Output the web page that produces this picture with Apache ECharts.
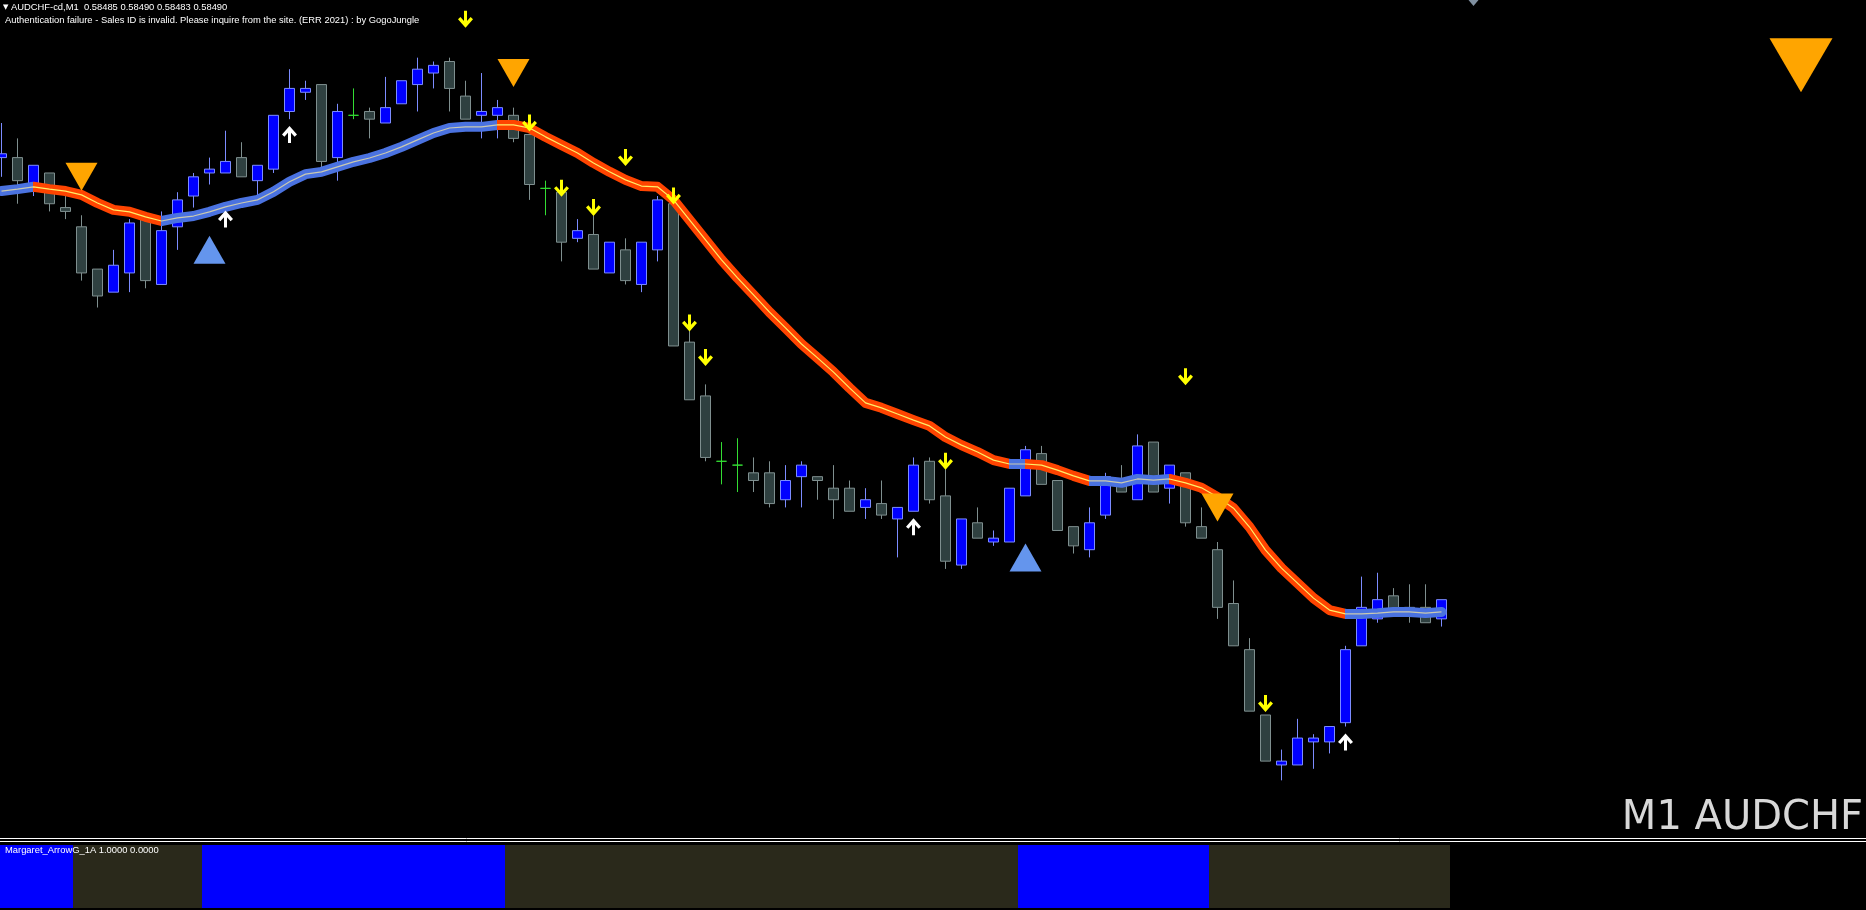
<!DOCTYPE html>
<html><head><meta charset="utf-8">
<script src="https://cdn.jsdelivr.net/npm/echarts@6/dist/echarts.min.js"></script>
<style>html,body{margin:0;padding:0;background:#000;overflow:hidden}#c{width:1866px;height:910px;}</style>
</head><body><div id="c"></div>
<script>
const symbolName = 'AUDCHF-cd,M1';
const authMessage = 'Authentication failure - Sales ID is invalid. Please inquire from the site. (ERR 2021) : by GogoJungle';
const watermark = 'M1 AUDCHF';
const indicatorName = 'Margaret_ArrowG_1A';
const totalSlots = 117;

const opens = [0.58605,0.58605,0.58598,0.58601,0.58592,0.58587,0.58576,0.58570,0.58575,0.58589,
0.58572,0.58587,0.58595,0.58601,0.58601,0.58605,0.58599,0.58602,0.58617,0.58622,
0.58624,0.58605,0.58616,0.58617,0.58614,0.58619,0.58624,0.58627,0.58630,0.58621,
0.58616,0.58616,0.58616,0.58611,0.58597,0.58596,0.58584,0.58585,0.58575,0.58581,
0.58572,0.58581,0.58593,0.58557,0.58543,0.58526,0.58525,0.58523,0.58523,0.58516,
0.58522,0.58522,0.58519,0.58519,0.58514,0.58515,0.58511,0.58513,0.58526,0.58517,
0.58499,0.58510,0.58505,0.58505,0.58517,0.58528,0.58521,0.58509,0.58503,0.58512,
0.58520,0.58516,0.58531,0.58519,0.58523,0.58509,0.58503,0.58489,0.58477,0.58460,
0.58447,0.58447,0.58453,0.58453,0.58458,0.58478,0.58485,0.58491,0.58488,0.58488,
0.58485];
const closes = [0.58606,0.58599,0.58603,0.58593,0.58591,0.58575,0.58569,0.58577,0.58588,0.58573,
0.58586,0.58594,0.58600,0.58602,0.58604,0.58600,0.58603,0.58616,0.58623,0.58623,
0.58604,0.58617,0.58616,0.58615,0.58618,0.58625,0.58628,0.58629,0.58623,0.58615,
0.58617,0.58618,0.58610,0.58598,0.58597,0.58583,0.58586,0.58576,0.58583,0.58573,
0.58583,0.58594,0.58556,0.58542,0.58527,0.58526,0.58525,0.58521,0.58515,0.58521,
0.58525,0.58521,0.58516,0.58513,0.58516,0.58512,0.58514,0.58525,0.58516,0.58500,
0.58511,0.58506,0.58506,0.58519,0.58529,0.58520,0.58508,0.58504,0.58510,0.58522,
0.58518,0.58530,0.58518,0.58525,0.58510,0.58506,0.58488,0.58478,0.58461,0.58448,
0.58448,0.58454,0.58454,0.58457,0.58477,0.58488,0.58490,0.58487,0.58487,0.58484,
0.58490];
const lows = [0.58600,0.58593,0.58595,0.58591,0.58589,0.58573,0.58566,0.58570,0.58570,0.58571,
0.58572,0.58581,0.58592,0.58598,0.58601,0.58600,0.58595,0.58601,0.58615,0.58620,
0.58602,0.58599,0.58615,0.58610,0.58614,0.58619,0.58617,0.58623,0.58617,0.58615,
0.58610,0.58610,0.58609,0.58594,0.58590,0.58578,0.58583,0.58576,0.58575,0.58572,
0.58570,0.58578,0.58556,0.58542,0.58526,0.58520,0.58518,0.58518,0.58514,0.58514,
0.58514,0.58516,0.58511,0.58513,0.58511,0.58511,0.58501,0.58513,0.58515,0.58498,
0.58498,0.58506,0.58504,0.58505,0.58517,0.58520,0.58508,0.58502,0.58501,0.58511,
0.58518,0.58516,0.58518,0.58515,0.58509,0.58506,0.58485,0.58478,0.58461,0.58448,
0.58443,0.58447,0.58446,0.58450,0.58457,0.58478,0.58484,0.58487,0.58484,0.58484,
0.58483];
const highs = [0.58614,0.58610,0.58603,0.58601,0.58595,0.58590,0.58576,0.58581,0.58589,0.58589,
0.58591,0.58596,0.58601,0.58605,0.58612,0.58609,0.58603,0.58616,0.58628,0.58625,
0.58624,0.58619,0.58623,0.58618,0.58626,0.58625,0.58631,0.58630,0.58631,0.58625,
0.58627,0.58620,0.58618,0.58611,0.58599,0.58596,0.58589,0.58590,0.58583,0.58584,
0.58583,0.58595,0.58595,0.58560,0.58546,0.58531,0.58532,0.58527,0.58526,0.58525,
0.58526,0.58522,0.58525,0.58521,0.58519,0.58521,0.58514,0.58527,0.58527,0.58526,
0.58511,0.58514,0.58508,0.58519,0.58530,0.58530,0.58521,0.58509,0.58514,0.58523,
0.58525,0.58533,0.58531,0.58525,0.58523,0.58514,0.58505,0.58495,0.58480,0.58460,
0.58451,0.58459,0.58455,0.58457,0.58478,0.58496,0.58497,0.58493,0.58494,0.58494,
0.58490];

// smoothed moving average line
const maValues = [0.585963,0.585968,0.585974,0.585968,0.585963,0.585953,0.585932,0.585914,0.585909,0.585896,
0.585885,0.585893,0.585898,0.585909,0.585922,0.585932,0.585940,0.585961,0.585987,0.586007,
0.586013,0.586026,0.586039,0.586049,0.586062,0.586078,0.586096,0.586114,0.586127,0.586130,
0.586130,0.586135,0.586135,0.586127,0.586104,0.586083,0.586062,0.586036,0.586013,0.585992,
0.585976,0.585974,0.585940,0.585888,0.585836,0.585784,0.585737,0.585693,0.585648,0.585607,
0.585565,0.585529,0.585492,0.585451,0.585412,0.585399,0.585383,0.585367,0.585352,0.585323,
0.585302,0.585284,0.585263,0.585253,0.585253,0.585250,0.585237,0.585222,0.585209,0.585209,
0.585204,0.585214,0.585211,0.585214,0.585204,0.585191,0.585167,0.585138,0.585089,0.585029,
0.584982,0.584943,0.584904,0.584873,0.584863,0.584863,0.584865,0.584868,0.584868,0.584865,
0.584868];
// candle indices where the MA colour flips (starts rising/blue)
const maSwitch = [2,10,31,63,64,68,73,84];

// signal marks: [candle index, price]
const sellArrows = [[29,0.58641],[33,0.58614],[35,0.58597],[37,0.58592],[39,0.58605],[42,0.58595],[43,0.58562],[44,0.58553],[59,0.58526],[74,0.58548],[79,0.58463]];
const buyArrows = [[14,0.58589],[18,0.58611],[57,0.58509],[84,0.58453]];
const sellTriangles = [[5,0.58600],[32,0.58627],[76,0.58514]];
const buyTriangles = [[13,0.58581],[64,0.58501]];
const currentSignal = [[112,0.58629]];
const topMarker = [[92,0.58646]];

// lower indicator panel (1 = up/blue, 0 = down/dark)
const panelUp = [1,1,1,1,1,0,0,0,0,0,0,0,0,1,1,1,1,1,1,1,1,1,1,1,1,1,1,1,1,1,1,1,
0,0,0,0,0,0,0,0,0,0,0,0,0,0,0,0,0,0,0,0,0,0,0,0,0,0,0,0,0,0,0,0,
1,1,1,1,1,1,1,1,1,1,1,1,0,0,0,0,0,0,0,0,0,0,0,0,0,0,0];
const panelDown = [0,0,0,0,0,1,1,1,1,1,1,1,1,0,0,0,0,0,0,0,0,0,0,0,0,0,0,0,0,0,0,0,
1,1,1,1,1,1,1,1,1,1,1,1,1,1,1,1,1,1,1,1,1,1,1,1,1,1,1,1,1,1,1,1,
0,0,0,0,0,0,0,0,0,0,0,0,1,1,1,1,1,1,1,1,1,1,1,1,1,1,1];

const categories = Array.from({length: totalSlots}, (_, i) => 'bar ' + (i + 1));
const candleData = opens.map((o, i) => [o, closes[i], lows[i], highs[i]]);
const last = opens.length - 1;
const nz = v => (v ? v : '-');

function maPieces(upColor, downColor) {
  const edges = [...maSwitch, null];
  const out = []; let prev = null; let up = true;
  edges.forEach(e => {
    const p = {color: up ? upColor : downColor};
    if (prev !== null) p.gte = prev;
    if (e !== null) p.lt = e;
    out.push(p); prev = e; up = !up;
  });
  return out;
}

const arrowDown = 'path://M0,5L5,10L10,5L8.4,3.7L6,6.1L6,0L4,0L4,6.1L1.6,3.7Z';
const arrowUp = 'path://M0,5L5,0L10,5L8.4,6.3L6,3.9L6,10L4,10L4,3.9L1.6,6.3Z';

const chart = echarts.init(document.getElementById('c'), null, {renderer: 'canvas'});
const smallFont = '9.4px "Liberation Sans"';
const slot = 16;
chart.setOption({
  backgroundColor: '#000000',
  animation: false,
  grid: [
    {left: 1.5, width: slot * (totalSlots - 1), top: 0, height: 838},
    {left: 1.5, width: slot * (totalSlots - 1), top: 845, height: 63}
  ],
  xAxis: [
    {type: 'category', data: categories, gridIndex: 0, show: false, boundaryGap: false},
    {type: 'category', data: categories, gridIndex: 1, show: false, boundaryGap: false}
  ],
  yAxis: [
    {type: 'value', gridIndex: 0, min: 0.58428, max: 0.58646, show: false, scale: true},
    {type: 'value', gridIndex: 1, min: 0, max: 1, show: false}
  ],
  visualMap: [
    {show: false, type: 'piecewise', seriesIndex: 1, dimension: 0, pieces: maPieces('#4a72e0', '#ff4400')},
    {show: false, type: 'piecewise', seriesIndex: 2, dimension: 0, pieces: maPieces('#c9c9b0', '#ffee66')}
  ],
  series: [
    {
      type: 'candlestick', xAxisIndex: 0, yAxisIndex: 0, data: candleData, barWidth: 10, z: 2, silent: true, clip: false,
      itemStyle: {color: '#0000ff', color0: '#2f4040', borderColor: '#7c8cff', borderColor0: '#7f8f8f', borderColorDoji: '#33dd33', borderWidth: 1},
      markLine: {silent: true, symbol: 'none', label: {show: false}, lineStyle: {color: '#a8a8a8', width: 1, type: 'solid'},
        data: [{yAxis: closes[last]}]}
    },
    {type: 'line', xAxisIndex: 0, yAxisIndex: 0, data: maValues, showSymbol: false, silent: true, z: 3, clip: false,
      lineStyle: {width: 10, join: 'round', cap: 'round'}},
    {type: 'line', xAxisIndex: 0, yAxisIndex: 0, data: maValues, showSymbol: false, silent: true, z: 4, clip: false,
      lineStyle: {width: 1.2}},
    {type: 'scatter', xAxisIndex: 0, yAxisIndex: 0, data: sellArrows, symbol: arrowDown, symbolSize: [15, 17], z: 6, silent: true,
      itemStyle: {color: '#ffff00', opacity: 1}},
    {type: 'scatter', xAxisIndex: 0, yAxisIndex: 0, data: buyArrows, symbol: arrowUp, symbolSize: [15, 17], z: 6, silent: true,
      itemStyle: {color: '#ffffff', opacity: 1}},
    {type: 'scatter', xAxisIndex: 0, yAxisIndex: 0, data: sellTriangles, symbol: 'triangle', symbolRotate: 180, symbolSize: [32, 28], z: 5, silent: true,
      itemStyle: {color: '#ffa500', opacity: 1}},
    {type: 'scatter', xAxisIndex: 0, yAxisIndex: 0, data: buyTriangles, symbol: 'triangle', symbolSize: [32, 28], z: 5, silent: true,
      itemStyle: {color: '#6495ed', opacity: 1}},
    {type: 'scatter', xAxisIndex: 0, yAxisIndex: 0, data: currentSignal, symbol: 'triangle', symbolRotate: 180, symbolSize: [63, 54], symbolOffset: [7.5, 0], z: 5, silent: true,
      itemStyle: {color: '#ffa500', opacity: 1}},
    {type: 'scatter', xAxisIndex: 0, yAxisIndex: 0, data: topMarker, symbol: 'diamond', symbolSize: [10, 12], z: 5, silent: true,
      itemStyle: {color: '#8090a0', opacity: 1}},
    {type: 'bar', xAxisIndex: 1, yAxisIndex: 1, data: panelUp.map(nz), stack: 'p', barWidth: 17, silent: true, clip: false,
      itemStyle: {color: '#0000ff'}},
    {type: 'bar', xAxisIndex: 1, yAxisIndex: 1, data: panelDown.map(nz), stack: 'p', barWidth: 17, silent: true, clip: false,
      itemStyle: {color: '#2a291b'}}
  ],
  graphic: [
    {type: 'line', shape: {x1: 0, y1: 838.5, x2: 1866, y2: 838.5}, style: {stroke: '#ffffff', lineWidth: 1}, silent: true},
    {type: 'line', shape: {x1: 0, y1: 841.5, x2: 1866, y2: 841.5}, style: {stroke: '#ffffff', lineWidth: 1}, silent: true},
    {type: 'text', left: 3, top: 4, style: {text: '▼', fill: '#ffffff', font: '7px "DejaVu Sans"'}, silent: true},
    {type: 'text', left: 11, top: 3, style: {text: symbolName + '  ' + opens[last].toFixed(5) + ' ' + highs[last].toFixed(5) + ' ' + lows[last].toFixed(5) + ' ' + closes[last].toFixed(5), fill: '#ffffff', font: smallFont}, silent: true},
    {type: 'text', left: 5, top: 16, style: {text: authMessage, fill: '#ffffff', font: smallFont}, silent: true},
    {type: 'text', right: 3, top: 799, style: {text: watermark, fill: '#d8d8d8', font: '40px "DejaVu Sans"'}, silent: true},
    {type: 'text', left: 5, top: 846, z: 100, style: {text: indicatorName + ' ' + panelDown[last].toFixed(4) + ' ' + panelUp[last].toFixed(4), fill: '#ffffff', font: smallFont}, silent: true}
  ]
});
</script>
</body></html>
